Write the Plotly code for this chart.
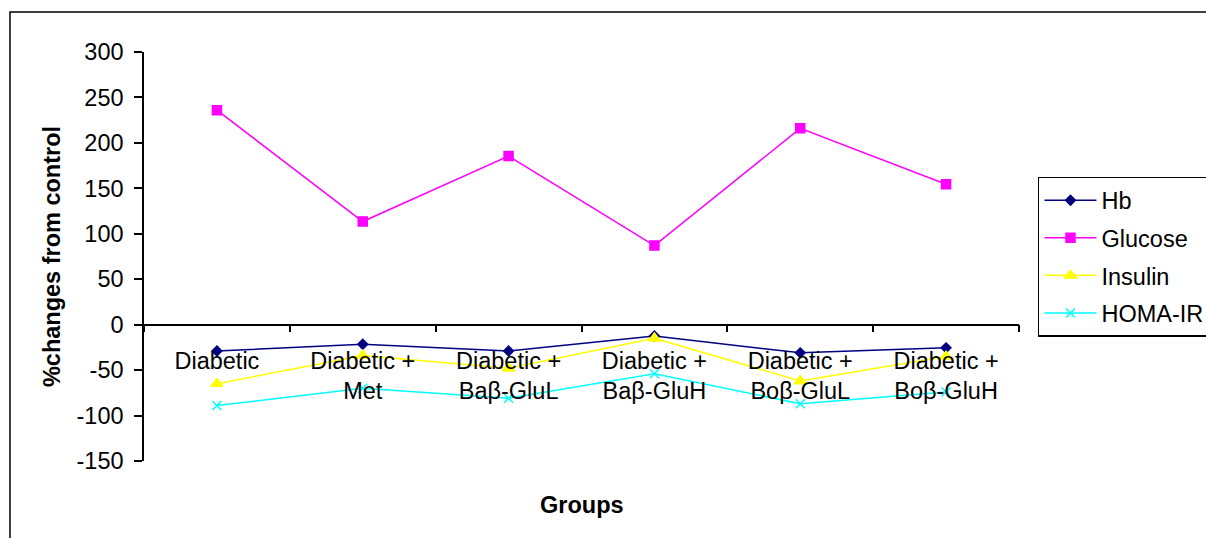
import plotly.graph_objects as go

# Groups on the category axis (two-line labels)
groups = [
    "Diabetic",
    "Diabetic +<br>Met",
    "Diabetic +<br>Baβ-GluL",
    "Diabetic +<br>Baβ-GluH",
    "Diabetic +<br>Boβ-GluL",
    "Diabetic +<br>Boβ-GluH",
]

# % changes from control for each parameter
hb = [-29, -21.5, -29, -12.5, -31, -25.5]
glucose = [236, 113.5, 185.5, 87, 216, 154.5]
insulin = [-65, -34, -48, -15, -62, -35]
homa_ir = [-89, -70, -81, -54, -87, -74]

y_ticks = [-150, -100, -50, 0, 50, 100, 150, 200, 250, 300]
y_tick_text = ["-150", "-100", "-50", "0", "50", "100", "150", "200", "250", "300"]

FONT = "Liberation Sans, Arial, sans-serif"
FS = 23.5

series = [
    ("Hb", hb, "#000080", "diamond", 7.5),
    ("Glucose", glucose, "#FF00FF", "square", 9),
    ("Insulin", insulin, "#FFFF00", "triangle-up", 10.5),
    ("HOMA-IR", homa_ir, "#00FFFF", "x-thin", 9),
]

fig = go.Figure()
for name, vals, color, symbol, size in series:
    fig.add_trace(go.Scatter(
        x=groups, y=vals, name=name, mode="lines+markers",
        legendgroup=name,
        line=dict(color=color, width=1.5),
        marker=dict(symbol=symbol, size=size, color=color,
                    line=dict(color=color, width=1.5)),
    ))

fig.update_layout(
    width=1206, height=538,
    margin=dict(l=144, r=187, t=52, b=77, autoexpand=False),
    paper_bgcolor="white", plot_bgcolor="white",
    font=dict(family=FONT, size=FS, color="black"),
    showlegend=True,
    legend=dict(
        x=1.0217, y=0.6944, xanchor="left", yanchor="top",
        bordercolor="black", borderwidth=1.5, bgcolor="white",
        font=dict(family=FONT, size=FS, color="black"),
        itemwidth=52, tracegroupgap=4,
    ),
    xaxis=dict(
        type="category", range=[-0.5, 5.5],
        anchor="free", position=1 / 3,
        showline=True, linecolor="black", linewidth=1.5,
        ticks="outside", tickson="boundaries", ticklen=7,
        tickcolor="black", tickwidth=1.5,
        showgrid=False, zeroline=False,
        ticklabelstandoff=15,
        tickfont=dict(family=FONT, size=FS, color="black"),
    ),
    yaxis=dict(
        range=[-150, 300], tickvals=y_ticks, ticktext=y_tick_text,
        showline=True, linecolor="black", linewidth=1.5,
        ticks="outside", ticklen=8, tickcolor="black", tickwidth=1.5,
        showgrid=False, zeroline=False,
        tickfont=dict(family=FONT, size=FS, color="black"),
        ticklabelstandoff=6,
        title=dict(text="<b>%changes from control</b>", standoff=9,
                   font=dict(family=FONT, size=FS, color="black")),
    ),
    annotations=[dict(
        text="<b>Groups</b>", xref="paper", yref="paper",
        x=0.5, y=(461 - 505) / 409, xanchor="center", yanchor="middle",
        showarrow=False, font=dict(family=FONT, size=FS, color="black"),
    )],
    shapes=[dict(
        type="rect", xref="paper", yref="paper",
        x0=(10 - 144) / 875, x1=1.3, y0=-0.3, y1=(461 - 12) / 409,
        line=dict(color="black", width=1.5), layer="below",
    )],
)

fig.write_html("out.html")
